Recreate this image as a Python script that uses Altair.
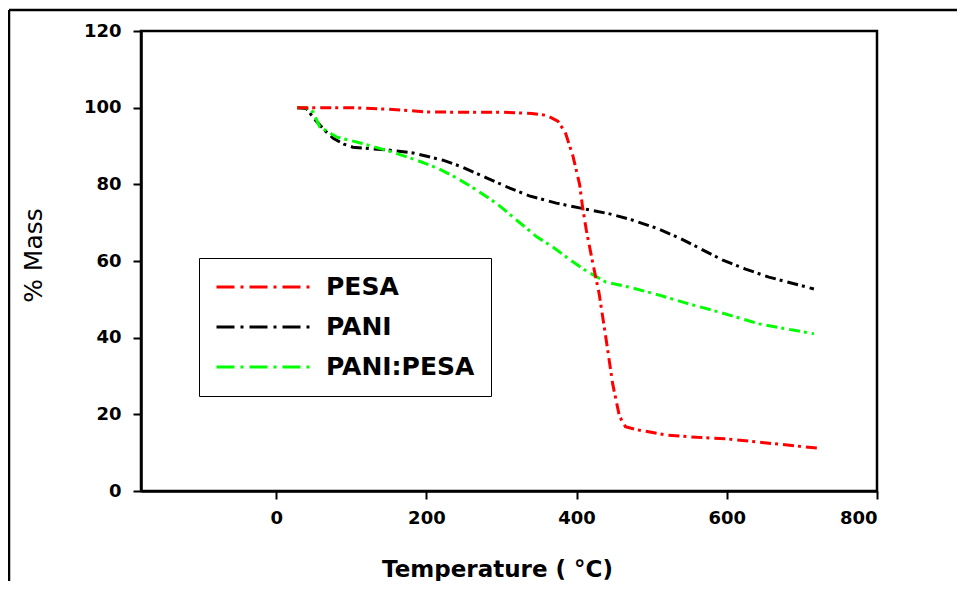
import altair as alt
import pandas as pd

# ---- data ----
SERIES = ["PESA", "PANI", "PANI:PESA"]
COLORS = ["#ff0000", "#000000", "#00ff00"]

PESA_T = [28, 60, 100, 150, 200, 250, 300, 340, 360, 375, 385, 395, 404, 408, 413, 421, 430, 439, 448, 457, 465, 480, 520, 560, 600, 650, 700, 720]
PESA_M = [100, 100, 100, 99.6, 98.9, 98.8, 98.8, 98.5, 98.0, 96.5, 93.5, 87.5, 80, 74, 68, 60, 51.5, 40, 28, 19.5, 16.8, 16.0, 14.6, 14.0, 13.6, 12.6, 11.6, 11.2]

PANI_T = [28, 40, 52, 65, 76, 90, 102, 125, 147, 182, 222, 248, 280, 311, 337, 373, 408, 444, 474, 506, 537, 566, 594, 625, 656, 687, 716]
PANI_M = [100, 99.8, 96.8, 94, 92, 90.5, 89.7, 89.3, 89, 88.2, 86.3, 84.5, 81.7, 79, 77, 75.1, 73.7, 72.3, 70.7, 68.6, 66, 63.1, 60.3, 57.9, 55.8, 54.2, 52.7]

BLEND_T = [28, 40, 49, 58, 81, 112, 155, 187, 214, 240, 267, 293, 320, 347, 368, 390, 413, 439, 474, 510, 546, 580, 612, 643, 679, 716]
BLEND_M = [100, 100, 98.9, 95, 92.3, 90.8, 88.4, 86.3, 84.3, 81.7, 78.5, 75.1, 70.7, 66.3, 63.7, 60.5, 57.4, 54.5, 53, 51.1, 49, 47.2, 45.4, 43.6, 42.3, 41]

X_TICKS = [0, 200, 400, 600, 800]
Y_TICKS = [0, 20, 40, 60, 80, 100, 120]

rows = []
for name, ts, ms in [("PANI", PANI_T, PANI_M), ("PANI:PESA", BLEND_T, BLEND_M), ("PESA", PESA_T, PESA_M)]:
    for i, (t, m) in enumerate(zip(ts, ms)):
        rows.append({"Temperature": t, "Mass": m, "Sample": name, "order": i})
df = pd.DataFrame(rows)

W, H = 736, 460
PAD = {"left": 133, "top": 23, "right": 80, "bottom": 90}

lines = alt.Chart(df).mark_line(strokeWidth=3, strokeDash=[11, 4, 3, 5]).encode(
    x=alt.X("Temperature:Q",
            scale=alt.Scale(domain=[-180, 800], nice=False, zero=False),
            axis=alt.Axis(values=X_TICKS, title="Temperature ( °C)", grid=False,
                          titleX=356, titleY=85, titleBaseline="alphabetic",
                          titleAlign="center", titleFontSize=23, titleFontWeight="bold",
                          labelFontSize=18, labelFontWeight="bold", labelPadding=10)),
    y=alt.Y("Mass:Q",
            scale=alt.Scale(domain=[0, 120], nice=False),
            axis=alt.Axis(values=Y_TICKS, title="% Mass", grid=False,
                          titleX=-108, titleY=224, titleAngle=-90, titleBaseline="middle",
                          titleAlign="center", titleFontSize=25, titleFontWeight="normal",
                          labelFontSize=18, labelFontWeight="bold", labelPadding=12)),
    color=alt.Color("Sample:N",
                    scale=alt.Scale(domain=SERIES, range=COLORS),
                    legend=alt.Legend(title=None, orient="none", legendX=58, legendY=227,
                                      symbolType="stroke", symbolSize=8649,
                                      symbolStrokeWidth=3, symbolDash=[18, 6, 3, 6],
                                      labelFontSize=25, labelFontWeight="bold",
                                      labelOffset=15, clipHeight=26, rowPadding=14,
                                      padding=16, strokeColor="black", fillColor="white",
                                      labelColor="black")),
    detail="Sample:N",
    order="order:Q",
)

frame_df = pd.DataFrame({"k": [0]})
left_border = alt.Chart(frame_df).mark_rule(color="black", strokeWidth=2.5).encode(
    x=alt.value(-132), y=alt.value(-21), y2=alt.value(560))
top_border = alt.Chart(frame_df).mark_rule(color="black", strokeWidth=2.5).encode(
    x=alt.value(-132), x2=alt.value(830), y=alt.value(-21))

chart = alt.layer(left_border, top_border, lines).properties(
    width=W, height=H,
    autosize=alt.AutoSizeParams(type="none"),
    padding=PAD,
).configure(font="DejaVu Sans").configure_view(
    stroke="black", strokeWidth=2.5
).configure_axis(
    domainColor="black", domainWidth=2.5, tickColor="black", tickWidth=2, tickSize=8,
    labelColor="black", titleColor="black"
)

chart.save("out.html", embed_options={"renderer": "svg", "actions": False})
